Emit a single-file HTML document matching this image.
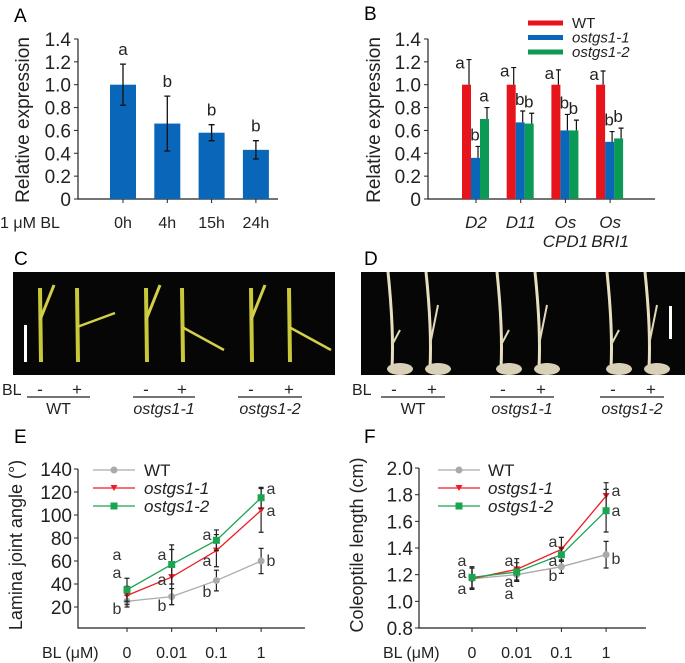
<!DOCTYPE html>
<html><head><meta charset="utf-8"><style>
html,body{margin:0;padding:0;background:#fff;}
svg{display:block;font-family:"Liberation Sans",Arial,sans-serif;}
</style></head><body>
<svg id="fig" width="685" height="663" viewBox="0 0 685 663" xmlns="http://www.w3.org/2000/svg">
<rect width="685" height="663" fill="#fff"/>
<g id="gA"></g>
<g id="gB"></g>
<g id="gC"></g>
<g id="gD"></g>
<g id="gE"></g>
<g id="gF"></g>
</svg>
<script>
// Panel A data
const aCats = ["0h","4h","15h","24h"];
const aVals = [1.0,0.66,0.58,0.43];
const aErrLo = [0.82,0.42,0.51,0.35];
const aErrHi = [1.18,0.90,0.65,0.51];
const aLetters = ["a","b","b","b"];
const yTicksA = ["0","0.2","0.4","0.6","0.8","1.0","1.2","1.4"];
// Panel B data
const bCats = [["D2"],["D11"],["Os","CPD1"],["Os","BRI1"]];
const bWT = [1.0,1.0,1.0,1.0];
const bG1 = [0.36,0.67,0.60,0.50];
const bG2 = [0.70,0.66,0.60,0.53];
const bWTerr = [1.22,1.15,1.13,1.12];
const bG1err = [0.46,0.77,0.74,0.59];
const bG2err = [0.80,0.75,0.69,0.62];
const bWTlet = ["a","a","a","a"];
const bG1let = ["b","b","b","b"];
const bG2let = ["a","b","b","b"];
// Panel E data
const eX = ["0","0.01","0.1","1"];
const eWT = [25,29,43,60];
const eWTe = [5,7,9,11];
const eG1 = [30,46,69,104];
const eG1e = [8,24,14,19];
const eG2 = [35,57,78,115];
const eG2e = [10,17,9,9];
const eTicks = [20,40,60,80,100,120,140];
// Panel F data
const fWT = [1.17,1.20,1.26,1.35];
const fWTe = [0.08,0.05,0.05,0.10];
const fG1 = [1.17,1.24,1.39,1.79];
const fG1e = [0.08,0.08,0.09,0.10];
const fG2 = [1.18,1.22,1.35,1.68];
const fG2e = [0.08,0.07,0.05,0.16];
const fTicks = [0.8,1.0,1.2,1.4,1.6,1.8,2.0];

const NS="http://www.w3.org/2000/svg";
function mk(parent,tag,attrs,text){const e=document.createElementNS(NS,tag);for(const k in attrs)e.setAttribute(k,attrs[k]);if(text!==undefined)e.textContent=text;parent.appendChild(e);return e;}

// ---------- Panel A ----------
(function(){
 const g=document.getElementById('gA');
 const y=v=>199-v*114.3; const x0=78;
 let t=mk(g,'text',{x:14,y:22,'font-size':19},'A');
 
 let ax=mk(g,'path',{d:`M${x0},39V199H278`,stroke:'#222',fill:'none','stroke-width':1.2});
 
 yTicksA.forEach((lb,i)=>{const yy=y(i*0.2);
  mk(g,'line',{x1:x0-4,x2:x0,y1:yy,y2:yy,stroke:'#222'});
  const tl=mk(g,'text',{x:x0-7,y:yy+7,'font-size':19,'text-anchor':'end',fill:'#222'},lb);
  });
 const yl=mk(g,'text',{transform:'translate(29,120) rotate(-90)','font-size':19,'text-anchor':'middle',fill:'#222'},'Relative expression');
 
 const l1=mk(g,'text',{x:0,y:228,'font-size':16,fill:'#222'},'1 μM BL');
 
 aCats.forEach((c,i)=>{const cx=123+i*44.3;
  const b=mk(g,'rect',{x:cx-13,y:y(aVals[i]),width:26,height:199-y(aVals[i]),fill:'#0a66b8'});
  
  mk(g,'line',{x1:cx,x2:cx,y1:199,y2:203,stroke:'#222'});
  const eb=mk(g,'path',{d:`M${cx},${y(aErrLo[i])}V${y(aErrHi[i])}M${cx-3},${y(aErrLo[i])}h6M${cx-3},${y(aErrHi[i])}h6`,stroke:'#111','stroke-width':1.3,fill:'none'});
  
  const lt=mk(g,'text',{x:cx,y:y(aErrHi[i])-9,'font-size':17,'text-anchor':'middle',fill:'#222'},aLetters[i]);
  
  const xl=mk(g,'text',{x:cx,y:228,'font-size':16,'text-anchor':'middle',fill:'#222'},c);
  });
})();

// ---------- Panel B ----------
(function(){
 const g=document.getElementById('gB');
 const y=v=>199-v*114.3; const x0=428;
 let t=mk(g,'text',{x:364,y:20,'font-size':19},'B');
 
 let ax=mk(g,'path',{d:`M${x0},39V199H655`,stroke:'#222',fill:'none','stroke-width':1.2});
 
 yTicksA.forEach((lb,i)=>{const yy=y(i*0.2);
  mk(g,'line',{x1:x0-4,x2:x0,y1:yy,y2:yy,stroke:'#222'});
  const tl=mk(g,'text',{x:x0-7,y:yy+7,'font-size':19,'text-anchor':'end',fill:'#222'},lb);
  });
 const yl=mk(g,'text',{transform:'translate(380,120) rotate(-90)','font-size':19,'text-anchor':'middle',fill:'#222'},'Relative expression');
 
 const cols=['#e8141c','#0a66b8','#0b9a55'];
 const series=[[bWT,bWTerr,bWTlet],[bG1,bG1err,bG1let],[bG2,bG2err,bG2let]];
 bCats.forEach((c,i)=>{const cx=476+i*44.7;
  mk(g,'line',{x1:cx,x2:cx,y1:199,y2:203,stroke:'#222'});
  series.forEach((s,j)=>{const bx=cx-14+j*9;
   const b=mk(g,'rect',{x:bx,y:y(s[0][i]),width:9,height:199-y(s[0][i]),fill:cols[j]});
   
   const ex=bx+7;
   const eb=mk(g,'path',{d:`M${ex},${y(s[0][i])}V${y(s[1][i])}M${ex-2.5},${y(s[1][i])}h5`,stroke:'#111','stroke-width':1.2,fill:'none'});
   
   const lx=j==0?bx-2:bx+4; const ly=j==0?y(s[1][i])+9:y(s[1][i])-6;
   const lt=mk(g,'text',{x:lx,y:ly,'font-size':17,'text-anchor':'middle',fill:'#222'},s[2][i]);
   
  });
  c.forEach((w,k)=>{const xl=mk(g,'text',{x:cx,y:228+k*19,'font-size':17,'font-style':'italic','text-anchor':'middle',fill:'#222'},w);
   });
 });
 const names=['WT','ostgs1-1','ostgs1-2'];
 names.forEach((n,j)=>{const yy=23+j*14.5;
  const ln=mk(g,'line',{x1:528,x2:563,y1:yy,y2:yy,stroke:cols[j],'stroke-width':5});
  
  const tx=mk(g,'text',{x:572,y:yy+5,'font-size':15,'font-style':j?'italic':'normal',fill:'#222'},n);
  });
})();

// ---------- Photo panels ----------
function photo(gid,label,lx,px,pw,bx,segs,kind,scaleX){
 const g=document.getElementById(gid);
 const t=mk(g,'text',{x:lx,y:265,'font-size':19},label);
 
 const r=mk(g,'rect',{x:px,y:272,width:pw,height:103,fill:'#060606'});
 
 const sb=mk(g,'rect',{x:scaleX,y:kind=='c'?325:336-(kind=='c'?0:0)-30,width:3,height:kind=='c'?37:33,fill:'#fff'});
 
 const bl=mk(g,'text',{x:bx,y:395,'font-size':16,fill:'#222'},'BL');
 
 const names=['WT','ostgs1-1','ostgs1-2'];
 segs.forEach((s,i)=>{
  const m=mk(g,'text',{x:s[0]+13,y:395,'font-size':17,'text-anchor':'middle',fill:'#222'},'-');
  
  const p=mk(g,'text',{x:s[1]-13,y:395,'font-size':17,'text-anchor':'middle',fill:'#222'},'+');
  
  mk(g,'line',{x1:s[0],x2:s[1],y1:397,y2:397,stroke:'#222','stroke-width':1.3});
  const n=mk(g,'text',{x:(s[0]+s[1])/2,y:414,'font-size':16,'font-style':i?'italic':'normal','text-anchor':'middle',fill:'#222'},names[i]);
  
  // seedlings
  [s[0]+13,s[1]-13].forEach((sx,k)=>{
   if(kind=='c'){
    mk(g,'path',{d:`M${sx},288 L${sx+1},362`,stroke:'#c8c83a','stroke-width':4,fill:'none'});
    if(k==0) mk(g,'path',{d:`M${sx},320 L${sx+14},285`,stroke:'#d4cf4a','stroke-width':3,fill:'none'});
    else mk(g,'path',{d:`M${sx},327 L${sx+(i?42:38)},${i?350:313}`,stroke:'#d4cf4a','stroke-width':2.5,fill:'none'});
   } else {
    mk(g,'path',{d:`M${sx-6},272 Q${sx},330 ${sx-2},368`,stroke:'#e8dfc0','stroke-width':3,fill:'none'});
    mk(g,'path',{d:`M${sx-2},345 L${sx+6},${k?305:330}`,stroke:'#e0d8b8','stroke-width':2,fill:'none'});
    mk(g,'ellipse',{cx:sx+6,cy:369,rx:13,ry:6,fill:'#d9d0b8'});
   }
  });
 });
}
photo('gC','C',14,13,322,2,[[27,90],[133,195],[238,302]],'c',24);
photo('gD','D',364,361,324,352,[[381,445],[490,554],[600,664]],'d',669);

// ---------- Line panels ----------
function linePanel(gid,label,x0,xs,xend,yf,ymin,ymax,ticks,fmt,ytitle,ser,legX,legT){
 const g=document.getElementById(gid);
 const t=mk(g,'text',{x:label=='E'?14:364,y:443,'font-size':19},label);
 
 const ax=mk(g,'path',{d:`M${x0},${yf(ymax)}V628H${xend}`,stroke:'#222',fill:'none','stroke-width':1.2});
 
 ticks.forEach(v=>{const yy=yf(v);mk(g,'line',{x1:x0-4,x2:x0,y1:yy,y2:yy,stroke:'#222'});
  const tl=mk(g,'text',{x:x0-6,y:yy+7,'font-size':19,'text-anchor':'end',fill:'#222'},fmt(v));
  });
 const yl=mk(g,'text',{transform:`translate(${x0-56},545) rotate(-90)`,'font-size':18,'text-anchor':'middle',fill:'#222'},ytitle);
 
 const bl=mk(g,'text',{x:x0-36,y:658,'font-size':16,fill:'#222'},'BL (μM)');
 
 eX.forEach((c,i)=>{mk(g,'line',{x1:xs(i),x2:xs(i),y1:628,y2:632,stroke:'#222'});
  const xl=mk(g,'text',{x:xs(i),y:658,'font-size':16,'text-anchor':'middle',fill:'#222'},c);
  });
 ser.forEach((s,j)=>{
  s.vals.forEach((v,i)=>{const e=s.err[i];
   const eb=mk(g,'path',{d:`M${xs(i)},${yf(v-e)}V${yf(v+e)}M${xs(i)-2.5},${yf(v-e)}h5M${xs(i)-2.5},${yf(v+e)}h5`,stroke:'#222','stroke-width':1.2,fill:'none'});
   });
  const pts=s.vals.map((v,i)=>xs(i)+','+yf(v)).join(' ');
  const pl=mk(g,'polyline',{points:pts,stroke:s.col,fill:'none','stroke-width':1.3});
  
  s.vals.forEach((v,i)=>{const px=xs(i),py=yf(v);let m;
   if(s.mk=='c') m=mk(g,'circle',{cx:px,cy:py,r:3.5,fill:s.col});
   else if(s.mk=='t') m=mk(g,'path',{d:`M${px-3.5},${py-3}h7l-3.5,6z`,fill:s.col});
   else m=mk(g,'rect',{x:px-3.5,y:py-3.5,width:7,height:7,fill:s.col});
   });
 });
 ser.forEach((s,j)=>{const yy=470+j*18;
  mk(g,'line',{x1:legX,x2:legX+42,y1:yy,y2:yy,stroke:s.col,'stroke-width':1.3});
  if(s.mk=='c') mk(g,'circle',{cx:legX+21,cy:yy,r:3.5,fill:s.col});
  else if(s.mk=='t') mk(g,'path',{d:`M${legX+17.5},${yy-3}h7l-3.5,6z`,fill:s.col});
  else mk(g,'rect',{x:legX+17.5,y:yy-3.5,width:7,height:7,fill:s.col});
  const tx=mk(g,'text',{x:legT,y:yy+6,'font-size':17,'font-style':j?'italic':'normal',fill:'#222'},s.name);
  });
 return g;
}
function letter(g,x,y,s){const t=mk(g,'text',{x:x,y:y,'font-size':16,'text-anchor':'middle',fill:'#333'},s);
 }

const yE=v=>630-v*1.15, xE=i=>127+i*44.7;
const gE=linePanel('gE','E',78,xE,305,yE,0,140,eTicks,v=>String(v),'Lamina joint angle (°)',
 [{name:'WT',vals:eWT,err:eWTe,col:'#aaaaaa',mk:'c'},{name:'ostgs1-1',vals:eG1,err:eG1e,col:'#ee1c24',mk:'t'},{name:'ostgs1-2',vals:eG2,err:eG2e,col:'#1aa551',mk:'s'}],93,144);
[[117,578,'a'],[117,560,'a'],[117,614,'b'],[162,560,'a'],[162,585,'a'],[162,611,'b'],[207,540,'a'],[207,566,'a'],[207,597,'b'],[271,494,'a'],[271,516,'a'],[271,566,'b']].forEach(a=>letter(gE,...a));

const yF=v=>628-(v-0.8)*133.3, xF=i=>472+i*44.7;
const gF=linePanel('gF','F',419,xF,646,yF,0.8,2.0,fTicks,v=>v.toFixed(1),'Coleoptile length (cm)',
 [{name:'WT',vals:fWT,err:fWTe,col:'#aaaaaa',mk:'c'},{name:'ostgs1-1',vals:fG1,err:fG1e,col:'#ee1c24',mk:'t'},{name:'ostgs1-2',vals:fG2,err:fG2e,col:'#1aa551',mk:'s'}],438,488);
[[462,578,'a'],[462,566,'a'],[462,594,'a'],[509,566,'a'],[509,587,'a'],[509,599,'a'],[553,547,'a'],[553,566,'a'],[553,581,'b'],[616,496,'a'],[616,516,'a'],[616,564,'b']].forEach(a=>letter(gF,...a));
</script>
</body></html>
